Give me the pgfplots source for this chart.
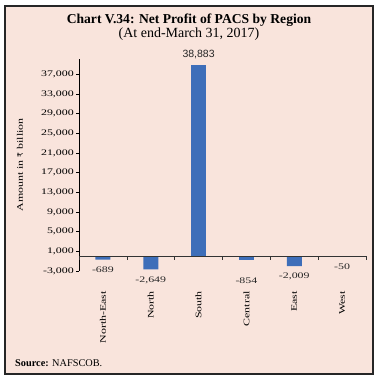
\documentclass[border=0pt]{standalone}
\usepackage{pgfplots}
\pgfplotsset{compat=1.18}
\usepackage{fontspec}
\setmainfont{Liberation Serif}
\newfontfamily\widefont[FakeStretch=1.4]{Liberation Serif}
\newfontfamily\labelsans{Liberation Sans}
\newfontfamily\rupee{DejaVu Sans}
\definecolor{bgpink}{RGB}{249,228,220}
\definecolor{barblue}{RGB}{62,110,185}
\begin{document}
\begin{tikzpicture}[x=1pt,y=1pt]
\path[use as bounding box, fill=white] (0,0) rectangle (378,379);
\draw[fill=bgpink, line width=1.5pt, draw=black!85] (5,5) rectangle (373,373);
\node[font=\fontsize{13.6}{15}\selectfont\bfseries, anchor=base] at (189,355) {Chart V.34: Net Profit of PACS by Region};
\node[font=\fontsize{14}{15}\selectfont, anchor=base] at (189,341) {(At end-March 31, 2017)};
\node[font=\widefont\fontsize{8.5}{10}\selectfont, rotate=90] at (20,214) {Amount in {\rupee\fontsize{7.5}{9}\selectfont ₹} billion};
\node[font=\fontsize{10.3}{12}\selectfont, anchor=base west, inner sep=0pt] at (15,12.5) {\textbf{Source:} NAFSCOB.};
\begin{axis}[at={(79pt,108pt)}, anchor=south west, scale only axis,
  width=287pt, height=211.5pt,
  ymin=-3000, ymax=40000, xmin=-0.5, xmax=5.5,
  ybar, bar width=15pt, bar shift=0pt,
  axis y line=left, axis x line=bottom,
  x axis line style={draw=none}, y axis line style={-, line width=0.6pt, black},
  ytick={-3000,1000,...,37000},
  scaled y ticks=false,
  xtick={0,1,2,3,4,5},
  xticklabels={North-East,North,South,Central,East,West},
  xtick style={draw=none},
  ytick style={line width=0.6pt, black},
  tick align=outside, major tick length=3pt,
  /pgf/number format/.cd, fixed, 1000 sep={,}, assume math mode=true,
  /pgfplots/.cd,
  yticklabel style={font=\widefont\fontsize{8.5}{10}\selectfont, inner sep=1pt, xshift=-1pt},
  xticklabel style={font=\widefont\fontsize{8.5}{10}\selectfont, rotate=90, anchor=east, inner sep=0pt, xshift=-17pt},
  clip=false,
]
\addplot[fill=barblue, draw=none,
  nodes near coords,
  every node near coord/.append style={font=\labelsans\fontsize{10.5}{12}\selectfont, anchor=south, inner sep=0pt, yshift=6pt, text=black!85}]
  coordinates {(2,38883)};
\addplot[fill=barblue, draw=none,
  nodes near coords,
  every node near coord/.append style={font=\widefont\fontsize{8.5}{10}\selectfont, anchor=north, inner sep=0pt, yshift=-7pt, text=black!85}]
  coordinates {(0,-689) (1,-2649) (4,-2009) (5,-50)};
\addplot[fill=barblue, draw=none,
  nodes near coords,
  every node near coord/.append style={font=\widefont\fontsize{8.5}{10}\selectfont, anchor=north, inner sep=0pt, yshift=-17pt, text=black!85}]
  coordinates {(3,-854)};
\draw[line width=0.6pt, black!80] (axis cs:-0.5,0) -- (axis cs:5.5,0);
\pgfplotsinvokeforeach{-0.5,0.5,1.5,2.5,3.5,4.5,5.5}{
  \draw[line width=0.6pt, black!80] (axis cs:#1,0) -- ++(0pt,-4pt);
}
\end{axis}
\end{tikzpicture}
\end{document}
